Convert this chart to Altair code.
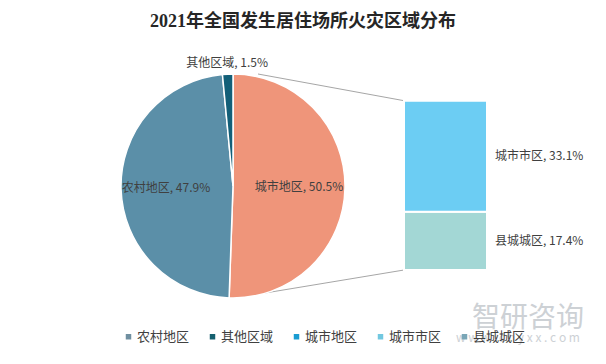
import math
import altair as alt
import pandas as pd

# ---------------- data ----------------
title_text = "2021年全国发生居住场所火灾区域分布"

pie_names = ["城市地区", "农村地区", "其他区域"]
pie_values = [50.5, 47.9, 1.5]
pie_colors = ["#ef957a", "#5b8fa8", "#125f78"]
pie_label_radius = [66, 67, 123]

bar_names = ["县城城区", "城市市区"]          # stacked bottom -> top
bar_values = [17.4, 33.1]
bar_colors = ["#a3d7d5", "#6ccdf3"]

legend_names = ["农村地区", "其他区域", "城市地区", "城市市区", "县城城区"]
legend_colors = ["#6f8fa0", "#15606f", "#1a9cd2", "#72c8e0", "#7aa6b6"]

watermark_main = "智研咨询"
watermark_sub = "w w w . c h y x x . c o m"

# ---------------- geometry / style ----------------
W, H = 590, 348
CX, CY, R = 225, 178, 112
BAR_X = [396, 479]
BAR_Y = [262, 92.7]
FONT = "Noto Sans CJK SC"
TXT = "#404040"

pie_df = pd.DataFrame({
    "name": pie_names,
    "value": pie_values,
    "idx": list(range(len(pie_names))),
    "lr": pie_label_radius,
})
pie_df["end"] = pie_df["value"].cumsum()
pie_df["start"] = pie_df["end"] - pie_df["value"]
pie_df["mid"] = (pie_df["start"] + pie_df["end"]) / 2
pie_df["label"] = [f"{n}, {v}%" for n, v in zip(pie_names, pie_values)]
pie_total = float(sum(pie_values))
theta_scale = alt.Scale(domain=[0, pie_total], range=[0, 2 * math.pi])

bar_df = pd.DataFrame({"name": bar_names, "value": bar_values})
bar_df["y1"] = bar_df["value"].cumsum()
bar_df["y0"] = bar_df["y1"] - bar_df["value"]
bar_df["ym"] = (bar_df["y0"] + bar_df["y1"]) / 2
bar_df["bx0"] = 0
bar_df["bx1"] = 1
bar_df["label"] = [f"{n}, {v}%" for n, v in zip(bar_names, bar_values)]
bar_total = float(sum(bar_values))

fill_scale = alt.Scale(domain=pie_names + bar_names, range=pie_colors + bar_colors)
xs = alt.Scale(domain=[0, 1], range=BAR_X)
ys = alt.Scale(domain=[0, bar_total], range=BAR_Y)

pie = alt.Chart(pie_df).mark_arc(radius=R, stroke="white", strokeWidth=1.5).encode(
    theta=alt.Theta("start:Q", scale=theta_scale, stack=None),
    theta2="end:Q",
    fill=alt.Fill("name:N", scale=fill_scale, legend=None),
    x=alt.value(CX), y=alt.value(CY),
)

pie_labels = alt.Chart(pie_df).mark_text(
    font=FONT, fontSize=12, color=TXT, align="center", baseline="middle"
).encode(
    theta=alt.Theta("mid:Q", scale=theta_scale, stack=None),
    radius=alt.Radius("lr:Q", scale=None),
    text="label:N",
    x=alt.value(CX), y=alt.value(CY),
)

bars = alt.Chart(bar_df).mark_bar(stroke="white", strokeWidth=2).encode(
    x=alt.X("bx0:Q", scale=xs, axis=None),
    x2="bx1:Q",
    y=alt.Y("y0:Q", scale=ys, axis=None),
    y2="y1:Q",
    fill=alt.Fill("name:N", scale=fill_scale, legend=None),
)

bar_labels = alt.Chart(bar_df).mark_text(
    font=FONT, fontSize=12, color=TXT, align="left", baseline="middle", dx=8
).encode(
    x=alt.X("bx1:Q", scale=xs, axis=None),
    y=alt.Y("ym:Q", scale=ys, axis=None),
    text="label:N",
)

top_line = alt.Chart(pd.DataFrame({"bx": [0], "by": [bar_total]})).mark_rule(
    color="#a6a6a6", strokeWidth=1
).encode(
    x=alt.X("bx:Q", scale=xs, axis=None), y=alt.Y("by:Q", scale=ys, axis=None),
    x2=alt.value(250), y2=alt.value(66),
)
bottom_line = alt.Chart(pd.DataFrame({"bx": [0], "by": [0]})).mark_rule(
    color="#a6a6a6", strokeWidth=1
).encode(
    x=alt.X("bx:Q", scale=xs, axis=None), y=alt.Y("by:Q", scale=ys, axis=None),
    x2=alt.value(245), y2=alt.value(287),
)

title = alt.Chart(pd.DataFrame({"t": [title_text]})).mark_text(
    font="Liberation Serif, Noto Sans CJK SC", fontSize=18, fontWeight="bold",
    color="#262626", align="center", baseline="middle"
).encode(text="t:N", x=alt.value(W / 2), y=alt.value(14))

wm1 = alt.Chart(pd.DataFrame({"t": [watermark_main]})).mark_text(
    font=FONT, fontSize=28, color="#cdd1d5", align="center", baseline="middle"
).encode(text="t:N", x=alt.value(520), y=alt.value(311))
wm2 = alt.Chart(pd.DataFrame({"t": [watermark_sub]})).mark_text(
    font=FONT, fontSize=12, color="#cdd1d5", align="center", baseline="middle"
).encode(text="t:N", x=alt.value(510), y=alt.value(330))

legend_layer = alt.Chart(pd.DataFrame({"name": legend_names})).mark_square(size=0).encode(
    color=alt.Color(
        "name:N",
        scale=alt.Scale(domain=legend_names, range=legend_colors),
        legend=alt.Legend(
            orient="none", legendX=114, legendY=322, direction="horizontal",
            columns=5, title=None, symbolType="square", symbolSize=30,
            symbolOpacity=1, symbolStrokeWidth=0,
            labelFont=FONT, labelFontSize=13, labelColor=TXT,
            labelOffset=2, columnPadding=16, padding=0,
        ),
    ),
    x=alt.value(0), y=alt.value(0),
)

chart = alt.layer(
    wm1, wm2, top_line, bottom_line, pie, pie_labels, bars, bar_labels, title, legend_layer
).properties(
    width=W, height=H, autosize=alt.AutoSizeParams(type="none"), padding=0,
    background="white",
).configure_view(strokeWidth=0)

chart.save("out.html", embed_options={"renderer": "svg", "actions": False})
